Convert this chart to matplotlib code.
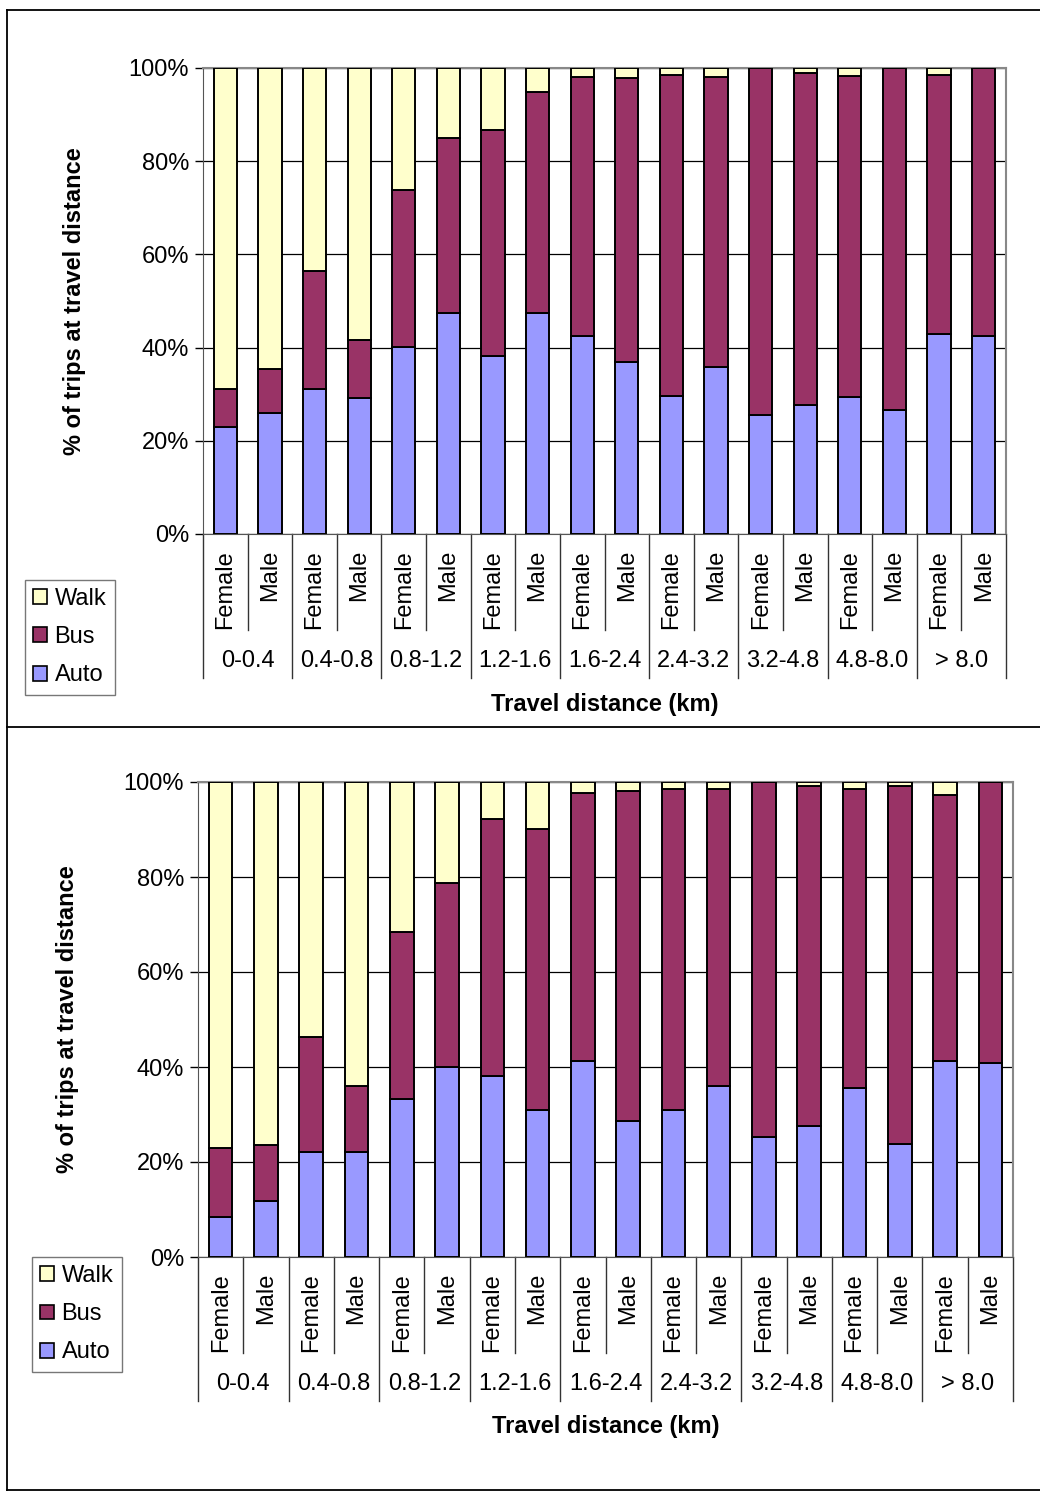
import matplotlib
matplotlib.use("Agg")
import matplotlib.pyplot as plt
import numpy as np
from matplotlib.lines import Line2D
from matplotlib.patches import Patch
import matplotlib.transforms as mtransforms

plt.rcParams['font.family'] = ['Liberation Sans', 'DejaVu Sans']

# ---- data: mode share (%) per bar, Female/Male within each distance band ----
distance_bands = ['0-0.4', '0.4-0.8', '0.8-1.2', '1.2-1.6', '1.6-2.4',
                  '2.4-3.2', '3.2-4.8', '4.8-8.0', '> 8.0']
genders = ['Female', 'Male']

# upper chart
auto_top = [22.9, 26.0, 31.1, 29.1, 40.1, 47.5, 38.1, 47.5, 42.5,
            36.9, 29.6, 35.8, 25.5, 27.7, 29.4, 26.6, 42.9, 42.5]
bus_top = [8.2, 9.4, 25.3, 12.5, 33.7, 37.5, 48.6, 47.3, 55.5,
           61.0, 68.9, 62.2, 74.5, 71.3, 68.9, 73.4, 55.7, 57.5]
walk_top = [68.9, 64.6, 43.6, 58.4, 26.2, 15.0, 13.3, 5.2, 2.0,
            2.1, 1.5, 2.0, 0.0, 1.0, 1.7, 0.0, 1.4, 0.0]

# lower chart
auto_bot = [8.4, 11.8, 22.1, 22.1, 33.3, 40.1, 38.2, 31.0, 41.3,
            28.6, 30.9, 36.0, 25.3, 27.6, 35.6, 23.8, 41.3, 40.8]
bus_bot = [14.5, 11.8, 24.2, 13.9, 35.1, 38.6, 54.0, 59.1, 56.4,
           69.5, 67.6, 62.5, 74.7, 71.6, 62.9, 75.4, 56.0, 59.2]
walk_bot = [77.1, 76.4, 53.7, 64.0, 31.6, 21.3, 7.8, 9.9, 2.3,
            1.9, 1.5, 1.5, 0.0, 0.8, 1.5, 0.8, 2.7, 0.0]

modes = ['Walk', 'Bus', 'Auto']
colors = {'Walk': '#FFFFCC', 'Bus': '#993366', 'Auto': '#9999FF'}
FS = 17

W, H = 1040, 1494
fig = plt.figure(figsize=(W / 100, H / 100), dpi=100)

# outer frame lines around both panels
for (x0, y0, x1, y1) in [(7, 10, 1040, 10), (7, 727, 1040, 727),
                         (7, 1490, 1040, 1490), (7, 10, 7, 1490)]:
    fig.add_artist(Line2D([x0 / W, x1 / W], [1 - y0 / H, 1 - y1 / H],
                          color='black', lw=1.3))


def draw_panel(rect, auto, bus, walk, ylab_x, leg_box):
    ax = fig.add_axes(rect)
    ax_h = rect[3] * H
    n = len(auto)
    x = np.arange(n)
    auto = np.array(auto); bus = np.array(bus); walk = np.array(walk)
    kw = dict(width=0.52, edgecolor='black', linewidth=1.4, zorder=3)
    ax.bar(x, auto, color=colors['Auto'], **kw)
    ax.bar(x, bus, bottom=auto, color=colors['Bus'], **kw)
    ax.bar(x, walk, bottom=auto + bus, color=colors['Walk'], **kw)

    ax.set_xlim(-0.5, n - 0.5)
    ax.set_ylim(0, 100)
    ax.set_yticks(np.arange(0, 101, 20))
    ax.set_yticklabels([f'{v}%' for v in range(0, 101, 20)], fontsize=FS)
    ax.tick_params(axis='y', length=6, width=1, pad=4)
    ax.set_xticks([])
    ax.yaxis.grid(True, color='black', lw=0.9, zorder=0)
    ax.set_axisbelow(True)
    for s in ['top', 'right']:
        ax.spines[s].set_color('#888888')
        ax.spines[s].set_linewidth(1.5)
    ax.spines['left'].set_color('#555555')
    ax.spines['bottom'].set_color('#555555')

    # two-level category axis below the bars
    trans = mtransforms.blended_transform_factory(ax.transData, ax.transAxes)
    short = -96 / ax_h
    long_ = -144 / ax_h
    for k in range(n + 1):
        edge = k - 0.5
        yend = long_ if k % 2 == 0 else short
        ax.plot([edge, edge], [0, yend], color='#333333', lw=1,
                transform=trans, clip_on=False)
    for i in range(n):
        ax.text(i, -16 / ax_h, genders[i % 2], rotation=90, ha='center',
                va='top', fontsize=FS, transform=trans)
    for g, band in enumerate(distance_bands):
        ax.text(2 * g + 0.5, -127 / ax_h, band, ha='center', va='center',
                fontsize=FS, transform=trans)
    ax.text(0.5, -170 / ax_h, 'Travel distance (km)', ha='center',
            va='center', fontsize=FS, fontweight='bold', transform=ax.transAxes)

    fig.text(ylab_x / W, rect[1] + rect[3] / 2, '% of trips at travel distance',
             rotation=90, ha='center', va='center', fontsize=FS,
             fontweight='bold')

    handles = [Patch(facecolor=colors[m], edgecolor='black', lw=1.2) for m in modes]
    x0, y0, x1, y1 = leg_box
    leg = fig.legend(handles, modes, loc='upper left',
                     bbox_to_anchor=(x0 / W, 1 - y0 / H), fontsize=FS,
                     frameon=True, fancybox=False, edgecolor='#555555',
                     handlelength=0.6, handleheight=0.6, handletextpad=0.3,
                     labelspacing=0.68, borderpad=0.35, borderaxespad=0)
    leg.get_frame().set_linewidth(1)
    return ax


draw_panel([203 / W, 1 - 534 / H, (1006 - 203) / W, (534 - 68) / H],
           auto_top, bus_top, walk_top, 75, (25, 580, 114, 695))
draw_panel([198 / W, 1 - 1257 / H, (1013 - 198) / W, (1257 - 782) / H],
           auto_bot, bus_bot, walk_bot, 68, (32, 1257, 121, 1371))

fig.savefig('out.png', dpi=100)
